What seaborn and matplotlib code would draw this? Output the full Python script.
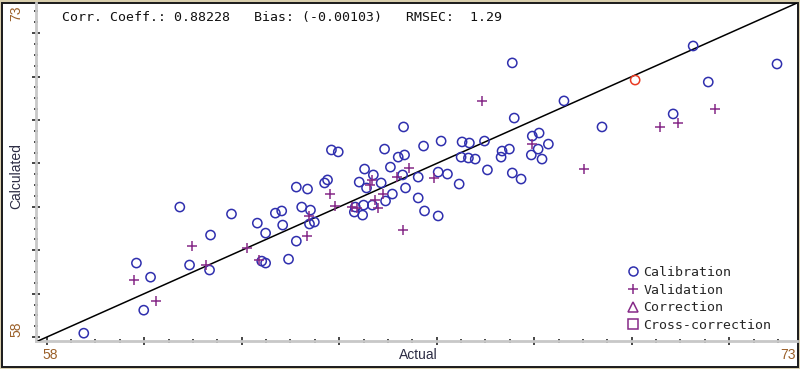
import numpy as np
import pandas as pd
import matplotlib
matplotlib.use('Agg')
import matplotlib.pyplot as plt
from matplotlib.lines import Line2D
from matplotlib.patches import Rectangle
import seaborn as sns

# -------------------------------
# DATA
# -------------------------------

cal_actual = [58.76, 59.99, 59.84, 60.13, 60.73, 60.93, 61.34, 61.36, 61.79, 62.32,
              62.49, 62.41, 62.49, 62.96, 63.12, 63.12, 63.35, 63.23, 63.41, 62.84,
              62.69, 62.82, 63.49, 63.39, 63.70, 63.76, 63.84, 63.98, 64.93, 65.32,
              65.21, 65.34, 65.05, 64.52, 64.70, 64.41, 64.56, 64.86, 65.09, 64.95,
              65.36, 65.30, 65.62, 65.62, 65.75, 66.03, 65.73, 66.09, 66.03, 66.22,
              66.46, 66.52, 66.67, 66.98, 66.50, 66.65, 66.79, 67.04, 67.55, 67.59,
              67.34, 67.49, 67.32, 67.96, 68.10, 68.29, 68.08, 67.94, 68.16, 67.55,
              67.73, 68.61, 69.39, 71.26, 71.57, 70.85, 72.98, 64.33, 64.50, 64.48,
              64.68, 64.31]
cal_calc = [58.18, 59.24, 61.41, 60.76, 63.99, 61.32, 61.09, 62.70, 63.67, 63.25,
            62.79, 61.50, 61.41, 61.59, 62.42, 64.91, 64.82, 63.99, 63.85, 63.16,
            63.71, 63.81, 63.30, 63.21, 65.10, 65.24, 66.62, 66.53, 66.66, 67.68,
            66.29, 66.39, 65.83, 65.74, 65.47, 65.14, 64.87, 65.10, 64.59, 64.27,
            64.87, 65.47, 65.37, 64.41, 63.81, 63.58, 66.80, 67.03, 65.60, 65.51,
            65.05, 66.99, 66.94, 67.03, 66.29, 66.25, 66.20, 65.70, 70.63, 68.09,
            66.57, 66.66, 66.29, 67.26, 67.40, 66.89, 66.66, 66.39, 66.20, 65.56,
            65.28, 68.88, 67.68, 71.41, 69.75, 68.28, 70.58, 63.99, 64.08, 63.62,
            64.08, 63.76]

val_actual = [59.78, 60.25, 60.97, 61.26, 62.10, 62.36, 63.33, 63.39, 63.82, 63.92,
              64.27, 64.37, 64.74, 64.80, 64.89, 64.68, 64.64, 65.19, 65.44, 65.95,
              65.30, 66.93, 67.96, 69.02, 70.58, 70.95, 71.71]
val_calc = [60.63, 59.66, 62.19, 61.32, 62.10, 61.55, 62.65, 63.58, 64.59, 64.04,
            63.99, 63.94, 64.31, 63.94, 64.59, 65.24, 65.00, 65.37, 65.79, 65.33,
            62.93, 68.88, 66.89, 65.74, 67.68, 67.86, 68.51]

# highlighted (selected) sample
sel_actual = [70.07]
sel_calc = [69.84]

stats_text = "Corr. Coeff.: 0.88228   Bias: (-0.00103)   RMSEC:  1.29"
legend_labels = ['Calibration', 'Validation', 'Correction', 'Cross-correction']

BLUE = '#2f2fae'
PURPLE = '#862a88'
RED = '#ea3a22'
LABEL_C = '#9a5f28'
AXLABEL_C = '#2c2c44'

# -------------------------------
# FIGURE
# -------------------------------

sns.set_style('white')
plt.rcParams['font.family'] = ['Liberation Sans', 'DejaVu Sans']

W, H = 800, 369
fig = plt.figure(figsize=(8, 3.69), dpi=100)
fig.patch.set_facecolor('#d9cfae')
fig.patches.append(Rectangle((2 / W, 2 / H), 795.5 / W, 364 / H,
                             transform=fig.transFigure, facecolor='white',
                             edgecolor='#1a1a1a', linewidth=1.4, zorder=-5))

ax = fig.add_axes([36 / W, 28 / H, 761 / W, 338 / H])
ax.set_facecolor('none')

sns.scatterplot(x=cal_actual, y=cal_calc, marker='o', s=44,
                facecolor='none', edgecolor=BLUE, linewidth=1.1, ax=ax, zorder=3)
sns.scatterplot(x=val_actual, y=val_calc, marker='+', s=55,
                color=PURPLE, linewidth=1.1, ax=ax, zorder=3)
sns.scatterplot(x=sel_actual, y=sel_calc, marker='o', s=44,
                facecolor='none', edgecolor=RED, linewidth=1.1, ax=ax, zorder=4)

ax.axline((58, 58), slope=1, color='black', linewidth=1.1, zorder=2)

ax.set_xlim(57.78, 73.39)
ax.set_ylim(57.82, 73.39)

# axes look
for side in ['top', 'right']:
    ax.spines[side].set_visible(False)
for side in ['left', 'bottom']:
    ax.spines[side].set_color('#c8c8c8')
    ax.spines[side].set_linewidth(2.0)
    ax.spines[side].set_zorder(1)

ax.set_xticks(np.arange(58, 73, 2))
ax.set_yticks(np.arange(58, 73, 2))
ax.set_xticks(np.arange(58, 73.01, 0.5), minor=True)
ax.set_yticks(np.arange(58, 73.01, 0.5), minor=True)
ax.set_xticklabels([])
ax.set_yticklabels([])
ax.tick_params(which='major', direction='inout', length=6, width=1.1, color='#151515',
               bottom=True, left=True)
ax.tick_params(which='minor', direction='inout', length=3.2, width=1.1, color='#151515',
               bottom=True, left=True)

# axis labels as in the original software
fig.text(50 / W, 1 - 355 / H, '58', color=LABEL_C, fontsize=10, ha='center', va='center')
fig.text(788 / W, 1 - 355 / H, '73', color=LABEL_C, fontsize=10, ha='center', va='center')
fig.text(418 / W, 1 - 355 / H, 'Actual', color=AXLABEL_C, fontsize=10, ha='center', va='center')
fig.text(16 / W, 1 - 13 / H, '73', color=LABEL_C, fontsize=10, rotation=90,
         ha='center', va='center')
fig.text(16 / W, 1 - 329 / H, '58', color=LABEL_C, fontsize=10, rotation=90,
         ha='center', va='center')
fig.text(16 / W, 1 - 176 / H, 'Calculated', color=AXLABEL_C, fontsize=10, rotation=90,
         ha='center', va='center')

fig.text(62 / W, 1 - 17 / H, stats_text, family='DejaVu Sans Mono', fontsize=9.5,
         color='#111111', ha='left', va='center')

# legend
handles = [
    Line2D([], [], linestyle='none', marker='o', markersize=6.5, markerfacecolor='none',
           markeredgecolor=BLUE, markeredgewidth=1.1),
    Line2D([], [], linestyle='none', marker='+', markersize=7.5, color=PURPLE,
           markeredgewidth=1.1),
    Line2D([], [], linestyle='none', marker='^', markersize=6.5, markerfacecolor='none',
           markeredgecolor=PURPLE, markeredgewidth=1.1),
    Line2D([], [], linestyle='none', marker='s', markersize=6.5, markerfacecolor='none',
           markeredgecolor=PURPLE, markeredgewidth=1.1),
]
ax.legend(handles, legend_labels, loc='upper left',
          bbox_to_anchor=((626 - 36) / 761, (341 - 266) / 338),
          frameon=False, borderpad=0, borderaxespad=0, handlelength=1.0,
          handletextpad=0.3, labelspacing=0.35,
          prop={'family': 'DejaVu Sans Mono', 'size': 9.5})

plt.savefig('out.png', dpi=100)
plt.close()
